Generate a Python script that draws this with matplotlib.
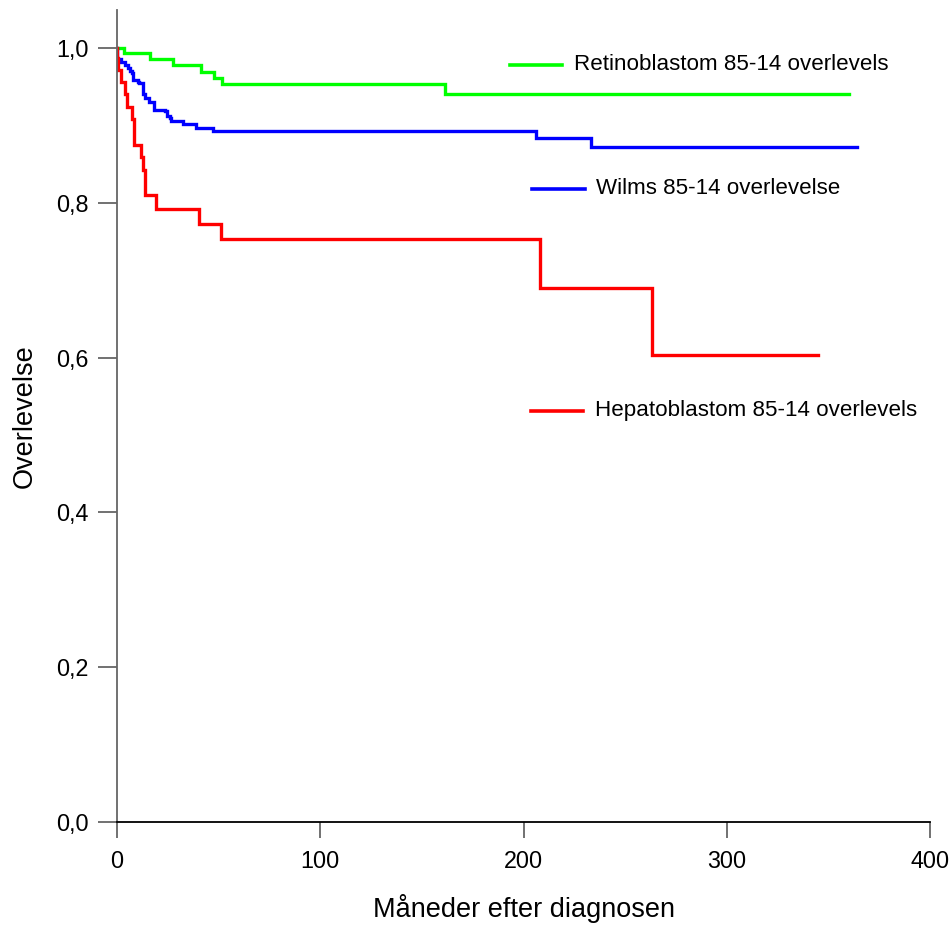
import numpy as np
import matplotlib
matplotlib.use('Agg')
import matplotlib.pyplot as plt

plt.rcParams['font.family'] = ['Liberation Sans', 'DejaVu Sans']

# Kaplan-Meier trin (maaneder, overlevelse)
retino_t = [0, 3.4, 16.2, 27.4, 41.3, 47.9, 51.5, 161.4, 360]
retino_s = [1.0, 0.993, 0.985, 0.978, 0.969, 0.961, 0.953, 0.941, 0.941]

wilms_t = [0, 0.2, 2.0, 3.9, 5.6, 6.5, 7.6, 8.0, 10.5, 11.0, 12.6, 13.8, 15.9,
           18.0, 23.6, 24.5, 26.1, 26.5, 32.6, 38.7, 47.4, 206.2, 233.0, 364]
wilms_s = [1.0, 0.985, 0.982, 0.978, 0.974, 0.970, 0.967, 0.959, 0.956, 0.954,
           0.941, 0.935, 0.930, 0.920, 0.918, 0.912, 0.910, 0.906, 0.901, 0.897,
           0.892, 0.883, 0.872, 0.872]

hepato_t = [0, 0.1, 0.7, 1.8, 3.9, 5.1, 7.2, 8.5, 11.8, 13.0, 13.8, 19.2, 40.5,
            51.0, 208.1, 263.2, 345]
hepato_s = [1.0, 0.987, 0.972, 0.956, 0.941, 0.924, 0.908, 0.875, 0.859, 0.842,
            0.810, 0.792, 0.773, 0.753, 0.690, 0.603, 0.603]

labels = ['Retinoblastom 85-14 overlevels', 'Wilms 85-14 overlevelse',
          'Hepatoblastom 85-14 overlevels']
colors = ['#00ff00', '#0000ff', '#ff0000']
# placering af forklaringer (x start, y)
key_pos = [(193.3, 0.978), (204.2, 0.818), (203.7, 0.531)]

fig = plt.figure(figsize=(9.51, 9.26), dpi=100)
ax = fig.add_axes([0.123, 0.1123, 0.855, 0.877])

series = [(retino_t, retino_s), (wilms_t, wilms_s), (hepato_t, hepato_s)]
for (t, s), c in zip(series, colors):
    ax.step(t, s, where='post', color=c, lw=2.4, solid_joinstyle='miter')

for (x0, y0), c, lab in zip(key_pos, colors, labels):
    ax.plot([x0, x0 + 25.8], [y0, y0], color=c, lw=2.6)
    ax.text(x0 + 31.5, y0, lab, fontsize=16.1, va='center', ha='left')

ax.set_xlim(0, 400)
ax.set_ylim(0, 1.049)
ax.set_xticks([0, 100, 200, 300, 400])
ax.set_yticks([0, 0.2, 0.4, 0.6, 0.8, 1.0])
ax.set_yticklabels(['0,0', '0,2', '0,4', '0,6', '0,8', '1,0'])

for side in ['top', 'right']:
    ax.spines[side].set_visible(False)
ax.spines['left'].set_color('#666666')
ax.spines['left'].set_linewidth(1.3)
ax.spines['bottom'].set_color('black')
ax.spines['bottom'].set_linewidth(1.3)

ax.tick_params(axis='both', direction='out', width=1.3,
               color='#666666', labelsize=16.8)
ax.tick_params(axis='x', length=11.5, pad=9)
ax.tick_params(axis='y', length=13.5, pad=7)

ax.set_xlabel('Måneder efter diagnosen', fontsize=19.5, labelpad=15)
ax.set_ylabel('Overlevelse', fontsize=19.5, labelpad=13)

fig.savefig('out.png', dpi=100)
